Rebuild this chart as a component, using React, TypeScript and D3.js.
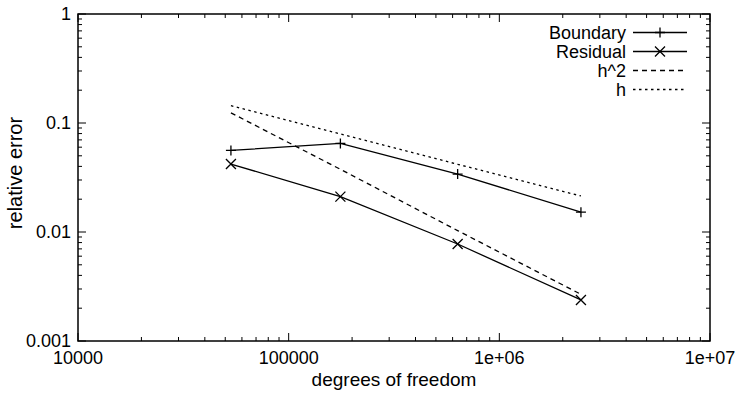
import * as React from "react";
import * as d3 from "d3";

// degrees of freedom and relative errors
const dof = [53200, 176000, 634000, 2440000];
const boundary = [0.056, 0.065, 0.034, 0.0152];
const residual = [0.042, 0.0211, 0.00776, 0.00238];
const hSquared = [0.124, 0.0376, 0.0103, 0.00268];
const hLinear = [0.144, 0.0794, 0.0418, 0.0214];

const xTickValues = [1e4, 1e5, 1e6, 1e7];
const xTickLabels = ["10000", "100000", "1e+06", "1e+07"];
const yTickValues = [0.001, 0.01, 0.1, 1];
const yTickLabels = ["0.001", "0.01", "0.1", "1"];

const width = 738;
const height = 398;
const marginLeft = 78;
const marginRight = 28;
const marginTop = 14;
const marginBottom = 57;
const font = "'Liberation Sans', Arial, Helvetica, sans-serif";

type Marker = "plus" | "cross" | null;

const series: { name: string; values: number[]; dash: string; marker: Marker }[] = [
  { name: "Boundary", values: boundary, dash: "", marker: "plus" },
  { name: "Residual", values: residual, dash: "", marker: "cross" },
  { name: "h^2", values: hSquared, dash: "5,4", marker: null },
  { name: "h", values: hLinear, dash: "2.5,3.5", marker: null },
];

const MarkerShape: React.FC<{ type: Marker; x: number; y: number }> = ({ type, x, y }) => {
  const s = 5;
  if (type === "plus")
    return <path d={`M${x - s},${y}H${x + s}M${x},${y - s}V${y + s}`} stroke="#000" strokeWidth={1.3} />;
  if (type === "cross")
    return (
      <path
        d={`M${x - s},${y - s}L${x + s},${y + s}M${x - s},${y + s}L${x + s},${y - s}`}
        stroke="#000"
        strokeWidth={1.3}
      />
    );
  return null;
};

const App: React.FC = () => {
  const x = d3.scaleLog().domain([1e4, 1e7]).range([marginLeft, width - marginRight]);
  const y = d3.scaleLog().domain([0.001, 1]).range([height - marginBottom, marginTop]);
  const [x0, x1] = x.range();
  const [y0, y1] = y.range();

  const minor = (domain: number[]) => {
    const out: number[] = [];
    for (let p = Math.log10(domain[0]); p < Math.log10(domain[1]); p++)
      for (let k = 2; k <= 9; k++) out.push(k * Math.pow(10, p));
    return out;
  };
  const xMinor = minor(x.domain());
  const yMinor = minor(y.domain());
  const major = 8;
  const small = 4;

  const line = d3
    .line<number>()
    .x((_, i) => x(dof[i]))
    .y((d) => y(d));

  return (
    <svg
      width={width}
      height={height}
      viewBox={`0 0 ${width} ${height}`}
      style={{ position: "absolute", left: 0, top: 0, background: "#fff" }}
      fontFamily={font}
    >
      <g stroke="#000" strokeWidth={1}>
        {xTickValues.map((v, i) => (
          <g key={`xm${i}`}>
            <line x1={x(v)} x2={x(v)} y1={y0} y2={y0 - major} />
            <line x1={x(v)} x2={x(v)} y1={y1} y2={y1 + major} />
          </g>
        ))}
        {xMinor.map((v, i) => (
          <g key={`xn${i}`}>
            <line x1={x(v)} x2={x(v)} y1={y0} y2={y0 - small} />
            <line x1={x(v)} x2={x(v)} y1={y1} y2={y1 + small} />
          </g>
        ))}
        {yTickValues.map((v, i) => (
          <g key={`ym${i}`}>
            <line x1={x0} x2={x0 + major} y1={y(v)} y2={y(v)} />
            <line x1={x1} x2={x1 - major} y1={y(v)} y2={y(v)} />
          </g>
        ))}
        {yMinor.map((v, i) => (
          <g key={`yn${i}`}>
            <line x1={x0} x2={x0 + small} y1={y(v)} y2={y(v)} />
            <line x1={x1} x2={x1 - small} y1={y(v)} y2={y(v)} />
          </g>
        ))}
      </g>
      <rect x={x0} y={y1} width={x1 - x0} height={y0 - y1} fill="none" stroke="#000" strokeWidth={1.5} />

      <g fontSize={18} fill="#000">
        {xTickValues.map((v, i) => (
          <text key={i} x={x(v)} y={y0 + 23} textAnchor="middle">
            {xTickLabels[i]}
          </text>
        ))}
        {yTickValues.map((v, i) => (
          <text key={i} x={x0 - 7} y={y(v)} dy="0.35em" textAnchor="end">
            {yTickLabels[i]}
          </text>
        ))}
        <text x={(x0 + x1) / 2} y={386} textAnchor="middle" fontSize={19}>
          degrees of freedom
        </text>
        <text transform={`translate(22,173) rotate(-90)`} textAnchor="middle" fontSize={20}>
          relative error
        </text>
      </g>

      {series.map((s) => (
        <g key={s.name}>
          <path d={line(s.values) || ""} fill="none" stroke="#000" strokeWidth={1.3} strokeDasharray={s.dash} />
          {s.marker && s.values.map((v, i) => <MarkerShape key={i} type={s.marker} x={x(dof[i])} y={y(v)} />)}
        </g>
      ))}

      <g fontSize={18}>
        {series.map((s, i) => {
          const ly = 32.5 + i * 19;
          return (
            <g key={s.name}>
              <text x={626} y={ly} dy="0.35em" textAnchor="end">
                {s.name}
              </text>
              <line x1={633} x2={687} y1={ly} y2={ly} stroke="#000" strokeWidth={1.3} strokeDasharray={s.dash} />
              {s.marker && <MarkerShape type={s.marker} x={660} y={ly} />}
            </g>
          );
        })}
      </g>
    </svg>
  );
};

export default App;
